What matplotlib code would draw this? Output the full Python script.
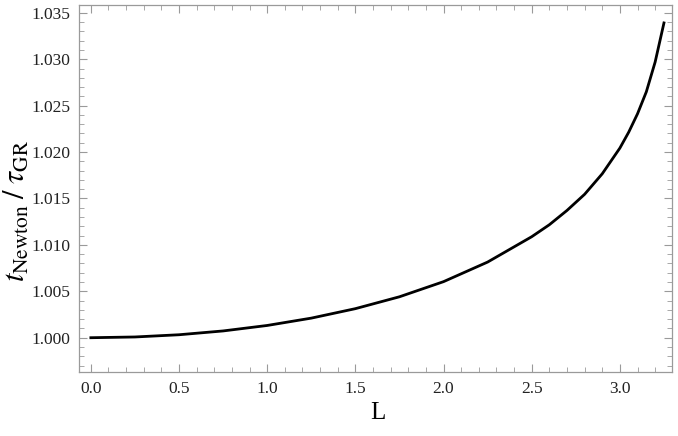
import matplotlib
matplotlib.use("Agg")
import matplotlib.pyplot as plt
from matplotlib.ticker import MultipleLocator, FormatStrFormatter

# values
L_values = [0.0, 0.25, 0.5, 0.75, 1.0, 1.25, 1.5, 1.75, 2.0, 2.25, 2.5,
            2.6, 2.7, 2.8, 2.9, 3.0, 3.05, 3.1, 3.15, 3.2, 3.25]
ratio_values = [1.0, 1.00008, 1.00032, 1.00073, 1.00132, 1.00211, 1.00313,
                1.00441, 1.00604, 1.00815, 1.01088, 1.01217, 1.01371,
                1.01545, 1.01766, 1.02043, 1.02214, 1.02412, 1.02649,
                1.02970, 1.03391]

plt.rcParams['font.family'] = ['Liberation Serif', 'DejaVu Serif']
plt.rcParams['mathtext.fontset'] = 'stix'

fig = plt.figure(figsize=(6.78, 4.36), dpi=100)
ax = fig.add_axes([0.1158, 0.146, 0.8752, 0.8425])

ax.plot(L_values, ratio_values, color='black', linewidth=2.0)

ax.set_xlim(-0.07, 3.295)
ax.set_ylim(0.99627, 1.03584)

ax.xaxis.set_major_locator(MultipleLocator(0.5))
ax.xaxis.set_minor_locator(MultipleLocator(0.1))
ax.yaxis.set_major_locator(MultipleLocator(0.005))
ax.yaxis.set_minor_locator(MultipleLocator(0.001))
ax.xaxis.set_major_formatter(FormatStrFormatter('%.1f'))
ax.yaxis.set_major_formatter(FormatStrFormatter('%.3f'))

frame_col = '#9a9a9a'
for s in ax.spines.values():
    s.set_color(frame_col)
    s.set_linewidth(0.9)

ax.tick_params(which='both', direction='in', top=True, right=True,
               color=frame_col, labelsize=12.5, labelcolor='#222222')
ax.tick_params(which='major', length=6, width=0.8, pad=6)
ax.tick_params(which='minor', length=3.5, width=0.6)

ax.set_xlabel('L', fontsize=18)
ax.set_ylabel(r'$t_{\mathrm{Newton}}\;/\;\tau_{\mathrm{GR}}$', fontsize=22)
ax.xaxis.set_label_coords(0.505, -0.11)
ax.yaxis.set_label_coords(-0.103, 0.44)
ax.xaxis.label.set_va('center')
ax.yaxis.label.set_va('center')

fig.savefig('out.png', dpi=100)
